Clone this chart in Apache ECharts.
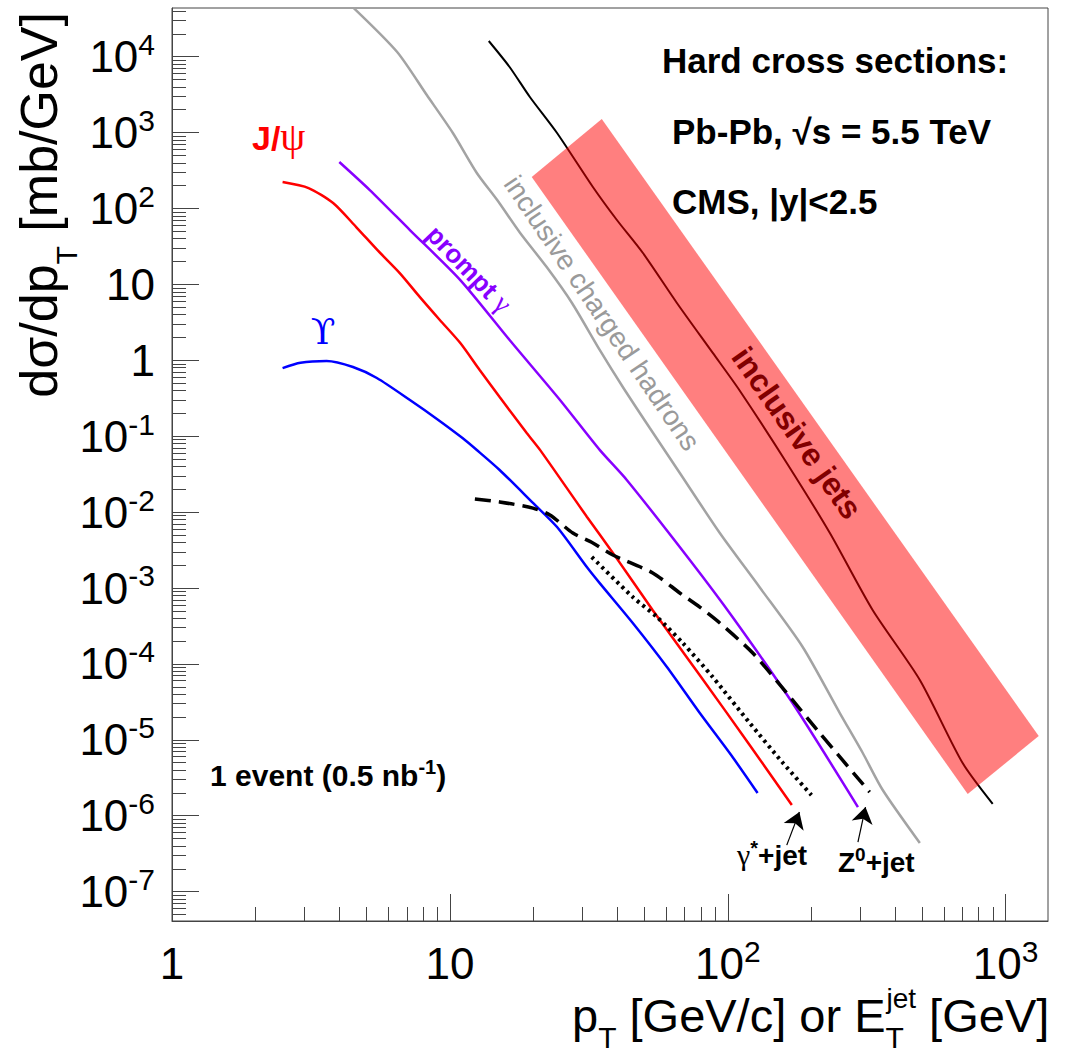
<!DOCTYPE html>
<html>
<head>
<meta charset="utf-8">
<script src="https://cdn.jsdelivr.net/npm/echarts@6/dist/echarts.min.js"></script>
<style>
  html, body { margin: 0; padding: 0; background: #ffffff; }
  #chart { width: 1068px; height: 1055px; }
</style>
</head>
<body>
<div id="chart"></div>
<script>
// Hard cross sections in Pb-Pb at sqrt(s) = 5.5 TeV, CMS acceptance |y| < 2.5
// x: pT [GeV/c] (or jet ET [GeV]),  y: dsigma/dpT [mb/GeV]

// J/psi
const jpsiPt = [2.5, 3.1, 3.8, 4.6, 5.5, 6.6, 7.8, 9.2, 10.9, 12.8, 15.1, 18.9, 21.1, 31.1, 38.6, 53.7, 79.3, 120, 170];
const jpsiXs = [223, 186, 118, 57, 28, 14.1, 6.8, 3.4, 1.69, 0.745, 0.328, 0.110, 0.066, 8.7e-3, 2.9e-3, 5.1e-4, 7.1e-5, 8.5e-6, 1.38e-6];

// Upsilon
const upsPt = [2.5, 2.9, 3.6, 4.48, 5.46, 7.18, 8.98, 11.1, 12.5, 15.1, 19.9, 24.3, 31.1, 34.6, 45.5, 60.4, 79.3, 104, 128];
const upsXs = [0.79, 0.93, 0.98, 0.816, 0.585, 0.30, 0.169, 0.0947, 0.0658, 0.0359, 0.0132, 6.36e-3, 1.89e-3, 1.16e-3, 3.46e-4, 9.1e-5, 2.25e-5, 5.93e-6, 1.99e-6];

// prompt photons
const gammaPt = [4.0, 5.15, 7.18, 10.9, 16.4, 24.9, 34.6, 43.3, 73, 104, 171, 294];
const gammaXs = [410, 175, 52, 11.4, 1.85, 0.30, 0.066, 0.0265, 2.34e-3, 4.15e-4, 3.05e-5, 1.30e-6];

// inclusive charged hadrons
const hadPt = [4.5, 6.45, 8.27, 10.25, 12.5, 14.8, 17.9, 22.3, 27.5, 34.6, 41.9, 52.4, 67.2, 93.6, 130, 186, 253, 306, 361, 491];
const hadXs = [4.4e4, 11600, 3100, 988, 294, 129, 47.5, 16.9, 5.69, 1.37, 0.445, 0.128, 0.0327, 5.3e-3, 1.03e-3, 1.67e-4, 2.25e-5, 6.7e-6, 2.18e-6, 4.37e-7];

// inclusive jets (central curve)
const jetEt = [13.8, 16.4, 19.4, 24.3, 32.7, 39.9, 49.5, 65.6, 88.3, 110, 163, 233, 332, 491, 700, 898];
const jetXs = [16100, 7320, 2945, 988, 192, 70.5, 25.9, 5.69, 1.25, 0.406, 0.0444, 5.3e-3, 5.13e-4, 6.14e-5, 4.94e-6, 1.43e-6];

// inclusive jets uncertainty band (corners)
const bandEt = [19.7, 35.2, 1315, 730];
const bandXs = [260, 1510, 1.12e-5, 1.93e-6];

// Z0 + jet
const zjetPt = [12.3, 15.1, 19.9, 22.9, 27.7, 32.7, 38.6, 53.7, 67.2, 79.3, 93.6, 123, 163, 214, 324];
const zjetXs = [0.0149, 0.0136, 0.0113, 9.16e-3, 5.3e-3, 3.92e-3, 2.72e-3, 1.58e-3, 8.6e-4, 5.6e-4, 3.46e-4, 1.39e-4, 4.14e-5, 1.23e-5, 2.05e-6];

// gamma* + jet
const gjetPt = [32.4, 45.5, 55.6, 68.9, 88.3, 120, 158, 200];
const gjetXs = [2.56e-3, 7.6e-4, 4.15e-4, 1.88e-4, 6.7e-5, 1.66e-5, 4.95e-6, 1.87e-6];

// one event for 0.5 nb^-1
const oneEventXs = 2e-6;

// pointer arrows to the gamma*+jet and Z0+jet end points
const arrowTailPt = [163, 294];
const arrowTailXs = [4.1e-7, 4.5e-7];
const arrowHeadPt = [181, 313];
const arrowHeadXs = [1.12e-6, 1.3e-6];

// axis ranges and tick labels
const xRange = [1, 1420];
const yRange = [4.1e-8, 4.38e4];
const xMajor = [1, 10, 100, 1000];
const xLabelBase = ['1', '10', '10', '10'];
const xLabelExp = ['', '', '2', '3'];
const yMajor = [1e-7, 1e-6, 1e-5, 1e-4, 1e-3, 1e-2, 1e-1, 1, 10, 100, 1000, 10000];
const yLabelBase = ['10', '10', '10', '10', '10', '10', '10', '1', '10', '10', '10', '10'];
const yLabelExp = ['-7', '-6', '-5', '-4', '-3', '-2', '-1', '', '', '2', '3', '4'];

// minor ticks at 2..9 x 10^n inside a range
function minorTicks(lo, hi) {
  const out = [];
  for (let e = Math.floor(Math.log10(lo)); e <= Math.ceil(Math.log10(hi)); e++) {
    for (let k = 2; k <= 9; k++) {
      const v = k * Math.pow(10, e);
      if (v >= lo && v <= hi) out.push(v);
    }
  }
  return out;
}

const SANS = "'Liberation Sans', Arial, Helvetica, sans-serif";
const SERIF = "'Liberation Serif', 'Times New Roman', serif";
const SERIF2 = "'DejaVu Serif', 'Liberation Serif', serif";
const AXIS_COLOR = '#444444';

// rich-text token (top aligned) whose baseline sits `base` px below the line top
function tok(size, base, family, weight, color, extra) {
  const h = 2 * (base - 0.35 * size);
  const c = color || '#000000';
  return Object.assign({
    fontSize: size, fontFamily: family, fontWeight: weight || 'normal',
    color: c, fill: c, height: h, lineHeight: h, verticalAlign: 'top'
  }, extra || {});
}
// same, but bottom aligned in a line box of height `line`
function tokLow(size, base, line, family, weight, color, extra) {
  const h = 2 * (line - (base - 0.35 * size));
  const c = color || '#000000';
  return Object.assign({
    fontSize: size, fontFamily: family, fontWeight: weight || 'normal',
    color: c, fill: c, height: h, lineHeight: h, verticalAlign: 'bottom'
  }, extra || {});
}

function powerLabel(majors, bases, exps) {
  return function (v) {
    const i = majors.findIndex(function (m) { return Math.abs(Math.log10(m) - Math.log10(v)) < 1e-6; });
    if (i < 0) return '';
    return exps[i] ? '{b|' + bases[i] + '}{s|' + exps[i] + '}' : '{b|' + bases[i] + '}';
  };
}

const tickRich = {
  b: tok(44, 33, SANS),
  s: tok(30, 16, SANS)
};

function toPairs(xs, ys) { return xs.map(function (x, i) { return [x, ys[i]]; }); }

function curve(name, xs, ys, color, width, dash, z) {
  return {
    name: name, type: 'line', data: toPairs(xs, ys),
    xAxisIndex: 0, yAxisIndex: 0,
    symbol: 'none', smooth: 0.25, clip: true, silent: true,
    lineStyle: { color: color, width: width, type: dash || 'solid', cap: 'butt' },
    z: z || 2
  };
}

const chart = echarts.init(document.getElementById('chart'), null, { renderer: 'svg' });

const deg = Math.PI / 180;

// x title: baseline 36 px under the block top, subscript 16 px lower, superscript 24 px higher
const xTitleRich = (function () {
  const L = 54;
  const main = tok(47, 36, SANS);
  main.lineHeight = L;
  return {
    m: main,
    sub: tokLow(30, 52, L, SANS),
    st: tokLow(30, 52, L, SANS, 'normal', '#000000', { width: 1 }),
    sup: tok(28, 12, SANS)
  };
})();
// y title: baseline 50 px under the block top, subscript 20 px lower
const yTitleRich = (function () {
  const L = 72;
  const main = tok(52, 50, SANS);
  main.lineHeight = L;
  return {
    m: main,
    sub: tokLow(30, 70, L, SANS)
  };
})();

const option = {
  animation: false,
  backgroundColor: '#ffffff',
  grid: {
    left: 172, right: 20, top: 8, bottom: 134,
    containLabel: false, outerBoundsMode: 'none',
    show: true, borderColor: AXIS_COLOR, borderWidth: 1, backgroundColor: 'transparent'
  },
  xAxis: [
    {
      type: 'log', logBase: 10, min: xRange[0], max: xRange[1], position: 'bottom', gridIndex: 0,
      axisLine: { show: true, onZero: false, lineStyle: { color: AXIS_COLOR, width: 1 } },
      axisTick: { show: true, inside: true, length: 27, customValues: xMajor, lineStyle: { color: AXIS_COLOR, width: 1 } },
      minorTick: { show: false },
      splitLine: { show: false },
      axisLabel: {
        show: true, customValues: xMajor, margin: 25, color: '#000',
        formatter: powerLabel(xMajor, xLabelBase, xLabelExp), rich: tickRich
      },
      name: '{m|p}{sub|T}{m| [GeV/c] or E}{st|T}{sup|jet}{m| [GeV]}',
      nameLocation: 'end', nameGap: -476, nameMoveOverlap: false,
      nameTextStyle: {
        align: 'left', verticalAlign: 'top', padding: [75, 0, 0, 0], color: '#000',
        rich: xTitleRich
      }
    },
    {
      type: 'log', logBase: 10, min: xRange[0], max: xRange[1], position: 'bottom', gridIndex: 0,
      axisLine: { show: false },
      axisTick: { show: true, inside: true, length: 14, customValues: minorTicks(xRange[0], xRange[1]), lineStyle: { color: AXIS_COLOR, width: 1 } },
      axisLabel: { show: false },
      splitLine: { show: false }
    }
  ],
  yAxis: [
    {
      type: 'log', logBase: 10, min: yRange[0], max: yRange[1], position: 'left', gridIndex: 0,
      axisLine: { show: true, onZero: false, lineStyle: { color: AXIS_COLOR, width: 1 } },
      axisTick: { show: true, inside: true, length: 27, customValues: yMajor, lineStyle: { color: AXIS_COLOR, width: 1 } },
      minorTick: { show: false },
      splitLine: { show: false },
      axisLabel: {
        show: true, customValues: yMajor, margin: 17, color: '#000',
        formatter: powerLabel(yMajor, yLabelBase, yLabelExp), rich: tickRich
      },
      name: '{m|d\u03c3/dp}{sub|T}{m| [mb/GeV]}',
      nameLocation: 'end', nameRotate: 90, nameGap: -4, nameMoveOverlap: false,
      nameTextStyle: {
        align: 'right', verticalAlign: 'bottom', padding: [0, 0, 93, 0], color: '#000',
        rich: yTitleRich
      }
    },
    {
      type: 'log', logBase: 10, min: yRange[0], max: yRange[1], position: 'left', gridIndex: 0,
      axisLine: { show: false },
      axisTick: { show: true, inside: true, length: 14, customValues: minorTicks(yRange[0], yRange[1]), lineStyle: { color: AXIS_COLOR, width: 1 } },
      axisLabel: { show: false },
      splitLine: { show: false }
    }
  ],
  graphic: {
    elements: [
      { type: 'text', x: 662, y: 60.5, z: 0,
        style: { text: 'Hard cross sections:', font: 'bold 35px ' + SANS, fill: '#000', align: 'left', verticalAlign: 'middle' } },
      { type: 'text', x: 672, y: 131.5, z: 0,
        style: { text: 'Pb-Pb, \u221As = 5.5 TeV', font: 'bold 35px ' + SANS, fill: '#000', align: 'left', verticalAlign: 'middle' } },
      { type: 'text', x: 672, y: 201.5, z: 0,
        style: { text: 'CMS, |y|<2.5', font: 'bold 35px ' + SANS, fill: '#000', align: 'left', verticalAlign: 'middle' } },
      { type: 'text', x: 252, y: 116, z: 0,
        style: {
          text: '{a|J/}{p|\u03c8}', align: 'left', verticalAlign: 'top',
          rich: { a: tok(34, 34, SANS, 'bold', '#ff0000'), p: tok(40, 34, SERIF, 'normal', '#ff0000') }
        } },
      { type: 'text', x: 323, y: 331, z: 0,
        style: { text: '\u03d2', font: '36px ' + SERIF2, fill: '#0000ff', align: 'center', verticalAlign: 'middle' } },
      { type: 'text', x: 469, y: 269, z: 0, rotation: -46 * deg,
        style: {
          text: '{a|prompt }{g|\u03b3}', align: 'center', verticalAlign: 'middle',
          rich: { a: tok(26, 24, SANS, 'bold', '#8800ff'), g: tok(28, 24, SERIF, 'normal', '#8800ff') }
        } },
      { type: 'text', x: 602, y: 313, z: 0, rotation: -55.8 * deg,
        style: { text: 'inclusive charged hadrons', font: '28px ' + SANS, fill: '#9a9a9a', align: 'center', verticalAlign: 'middle' } },
      { type: 'text', x: 797, y: 433, z: 0, rotation: -55 * deg,
        style: { text: 'inclusive jets', font: 'bold 32px ' + SANS, fill: '#000000', align: 'center', verticalAlign: 'middle' } },
      { type: 'text', x: 210, y: 756, z: 0,
        style: {
          text: '{a|1 event (0.5 nb}{s|-1}{a|)}', align: 'left', verticalAlign: 'top',
          rich: { a: tok(30, 30, SANS, 'bold'), s: tok(20, 18, SANS, 'bold') }
        } },
      { type: 'text', x: 737, y: 835, z: 0,
        style: {
          text: '{g|\u03b3}{s|*}{a|+jet}', align: 'left', verticalAlign: 'top',
          rich: { g: tok(30, 30, SERIF), s: tok(20, 20, SANS, 'bold'), a: tok(28, 30, SANS, 'bold') }
        } },
      { type: 'text', x: 838, y: 842, z: 0,
        style: {
          text: '{a|Z}{s|0}{a|+jet}', align: 'left', verticalAlign: 'top',
          rich: { a: tok(28, 30, SANS, 'bold'), s: tok(19, 19, SANS, 'bold') }
        } }
    ]
  },
  series: [
    curve('inclusive charged hadrons', hadPt, hadXs, '#a3a3a3', 2.5),
    curve('inclusive jets', jetEt, jetXs, '#000000', 2),
    {
      name: 'inclusive jets band', type: 'custom', coordinateSystem: 'cartesian2d',
      xAxisIndex: 0, yAxisIndex: 0, silent: true, z: 3,
      data: toPairs(bandEt, bandXs),
      renderItem: function (params, api) {
        if (params.dataIndex !== 0) return null;
        const pts = bandEt.map(function (x, i) { return api.coord([x, bandXs[i]]); });
        return { type: 'polygon', shape: { points: pts }, style: { fill: 'rgba(255,0,0,0.5)', stroke: null } };
      }
    },
    curve('prompt photons', gammaPt, gammaXs, '#8800ff', 2.5),
    curve('J/psi', jpsiPt, jpsiXs, '#ff0000', 2.5),
    Object.assign(curve('Upsilon', upsPt, upsXs, '#0000ff', 2.5), {
      markLine: {
        silent: true, symbol: ['none', 'none'], animation: false,
        label: { show: false },
        lineStyle: { color: '#555555', width: 1.5, type: 'solid' },
        data: [{ yAxis: oneEventXs }]
      }
    }),
    curve('Z0+jet', zjetPt, zjetXs, '#000000', 3.5, [16, 8]),
    Object.assign(curve('gamma*+jet', gjetPt, gjetXs, '#000000', 4, [3, 4]), {
      markLine: {
        silent: true, symbol: ['none', 'arrow'], symbolSize: 16, animation: false,
        label: { show: false },
        lineStyle: { color: '#000000', width: 1.2, type: 'solid' },
        data: arrowTailPt.map(function (x, i) {
          return [{ coord: [x, arrowTailXs[i]] }, { coord: [arrowHeadPt[i], arrowHeadXs[i]] }];
        })
      }
    })
  ]
};

chart.setOption(option);
</script>
</body>
</html>
